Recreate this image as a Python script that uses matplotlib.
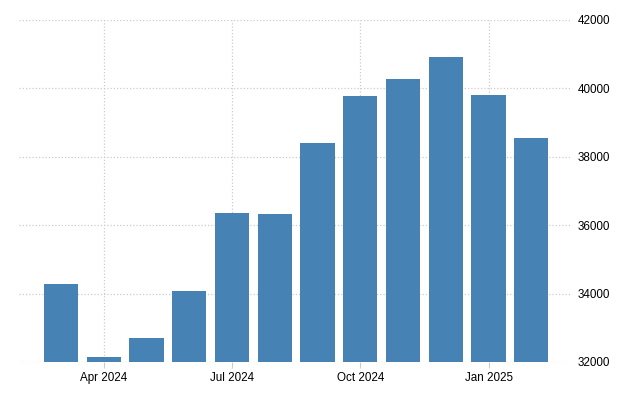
import matplotlib
matplotlib.use("Agg")
import matplotlib.pyplot as plt

# Monthly values, Mar 2024 - Feb 2025
months = ["Mar 2024", "Apr 2024", "May 2024", "Jun 2024", "Jul 2024", "Aug 2024",
          "Sep 2024", "Oct 2024", "Nov 2024", "Dec 2024", "Jan 2025", "Feb 2025"]
values = [34270, 32155, 32690, 34070, 36360, 36330,
          38390, 39770, 40270, 40920, 39800, 38540]

tick_idx = [1, 4, 7, 10]
tick_labels = ["Apr 2024", "Jul 2024", "Oct 2024", "Jan 2025"]
y_ticks = [32000, 34000, 36000, 38000, 40000, 42000]

plt.rcParams["font.family"] = ["Liberation Sans", "DejaVu Sans"]

fig = plt.figure(figsize=(6.4, 4.0), dpi=100)
ax = fig.add_axes([0.0297, 0.095, 0.864, 0.855])

x = list(range(len(months)))
ax.bar(x, values, width=0.8, color="#4682b4", zorder=2)

ax.set_xlim(-0.98, 11.95)
ax.set_ylim(32000, 42000)
ax.set_yticks(y_ticks)
ax.set_yticklabels([str(v) for v in y_ticks])
ax.set_xticks(tick_idx)
ax.set_xticklabels(tick_labels)

ax.yaxis.tick_right()
ax.tick_params(axis="y", length=0, pad=4, labelsize=8.4, colors="black")
ax.tick_params(axis="x", length=4, color="#cccccc", pad=3, labelsize=8.4)

ax.grid(True, color="#cccccc", linestyle=(0, (1, 1.6)), linewidth=0.9, zorder=0)
for s in ax.spines.values():
    s.set_visible(False)

fig.savefig("out.png", dpi=100)
